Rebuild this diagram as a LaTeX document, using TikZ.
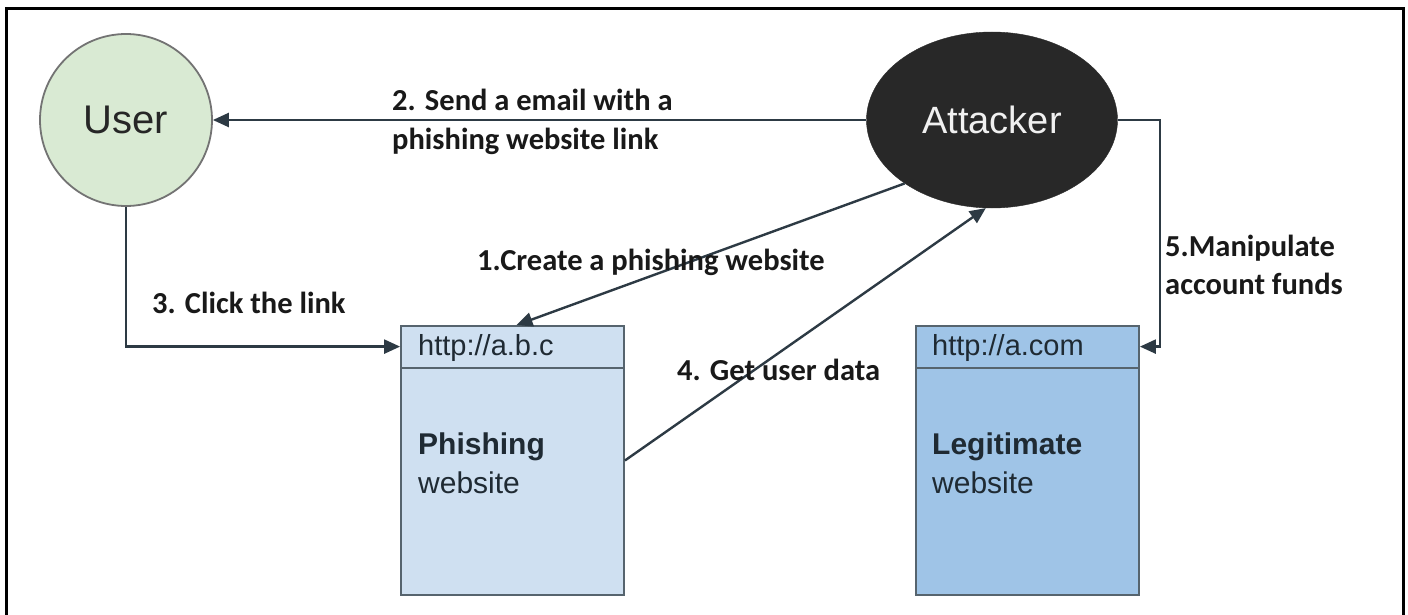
\documentclass[tikz,border=0pt]{standalone}
\usepackage{fontspec}
\setmainfont{Liberation Sans}
\newfontfamily\lblfont{Carlito}
\usetikzlibrary{shapes.geometric,arrows.meta,calc}
\definecolor{linec}{HTML}{2D3A44}
\definecolor{userfill}{HTML}{D9EAD3}
\definecolor{atkfill}{HTML}{282828}
\definecolor{phfill}{HTML}{CFE0F1}
\definecolor{lgfill}{HTML}{9FC4E7}
\definecolor{boxline}{HTML}{56646E}
\definecolor{boxtext}{HTML}{1F2A33}
\tikzset{
  arr/.style={draw=linec, line width=2.4pt, -{Triangle[length=16pt,width=14pt]}},
  lbl/.style={font=\lblfont\bfseries\fontsize{30.5}{38.5}\selectfont, text=black!90, inner sep=0pt, anchor=west, align=left},
  sitebox/.style={draw=boxline, line width=1.8pt, minimum width=223pt, minimum height=269pt, inner sep=0pt},
  boxtxt/.style={text=boxtext, inner sep=0pt, anchor=west, font=\fontsize{29}{34}\selectfont},
}
\begin{document}
\begin{tikzpicture}[x=1pt,y=-1pt]
\useasboundingbox (0,0) rectangle (1408,615);
\fill[white] (0,0) rectangle (1408,615);
% frame
\draw[line width=3pt, black] (6,616) -- (6,9) -- (1403,9) -- (1403,616);
% nodes
\node[circle, draw=black!55, line width=1.8pt, fill=userfill, minimum size=172pt, inner sep=0pt,
      font=\fontsize{40}{46}\selectfont, text=black!85] (user) at (126,120) {User};
\node[ellipse, draw=atkfill, fill=atkfill, minimum width=251pt, minimum height=176pt, inner sep=0pt,
      font=\fontsize{38}{44}\selectfont, text=white!94!black] (attacker) at (992,120) {Attacker};
\node[sitebox, fill=phfill] (phish) at (512.5,460.5) {};
\node[sitebox, fill=lgfill] (legit) at (1027.5,460.5) {};
\draw[boxline, line width=1.8pt] ([yshift=-43pt]phish.north west) -- ([yshift=-43pt]phish.north east);
\draw[boxline, line width=1.8pt] ([yshift=-43pt]legit.north west) -- ([yshift=-43pt]legit.north east);
\node[boxtxt] (phurl) at (418,348) {http://a.b.c};
\node[boxtxt, font=\bfseries\fontsize{30}{34}\selectfont] (phname) at (418,447) {Phishing};
\node[boxtxt, font=\fontsize{30}{34}\selectfont] (phweb) at (418,483) {website};
\node[boxtxt] (lgurl) at (932,348) {http://a.com};
\node[boxtxt, font=\bfseries\fontsize{30}{34}\selectfont] (lgname) at (932,447) {Legitimate};
\node[boxtxt, font=\fontsize{30}{34}\selectfont] (lgweb) at (932,483) {website};
% connectors
\coordinate (k5) at (1160,120);
\draw[arr] (attacker.west) -- (user.east);
\draw[arr] (user.south) |- ([yshift=-21.5pt]phish.north west);
\draw[arr] (attacker.216) -- ([xshift=4pt]phish.north);
\draw[arr] (phish.east) -- (attacker.266);
\draw[arr] (attacker.east) -- (k5) |- ([yshift=-21.5pt]legit.north east);
% labels
\node[lbl] (l2) at (392,122) {2. Send a email with a\\phishing website link};
\node[lbl] (l1) at (477,262) {1.Create a phishing website};
\node[lbl] (l3) at (152,303) {3. Click the link};
\node[lbl] (l4) at (677,370) {4. Get user data};
\node[lbl] (l5) at (1165,265) {5.Manipulate\\account funds};
\end{tikzpicture}
\end{document}
